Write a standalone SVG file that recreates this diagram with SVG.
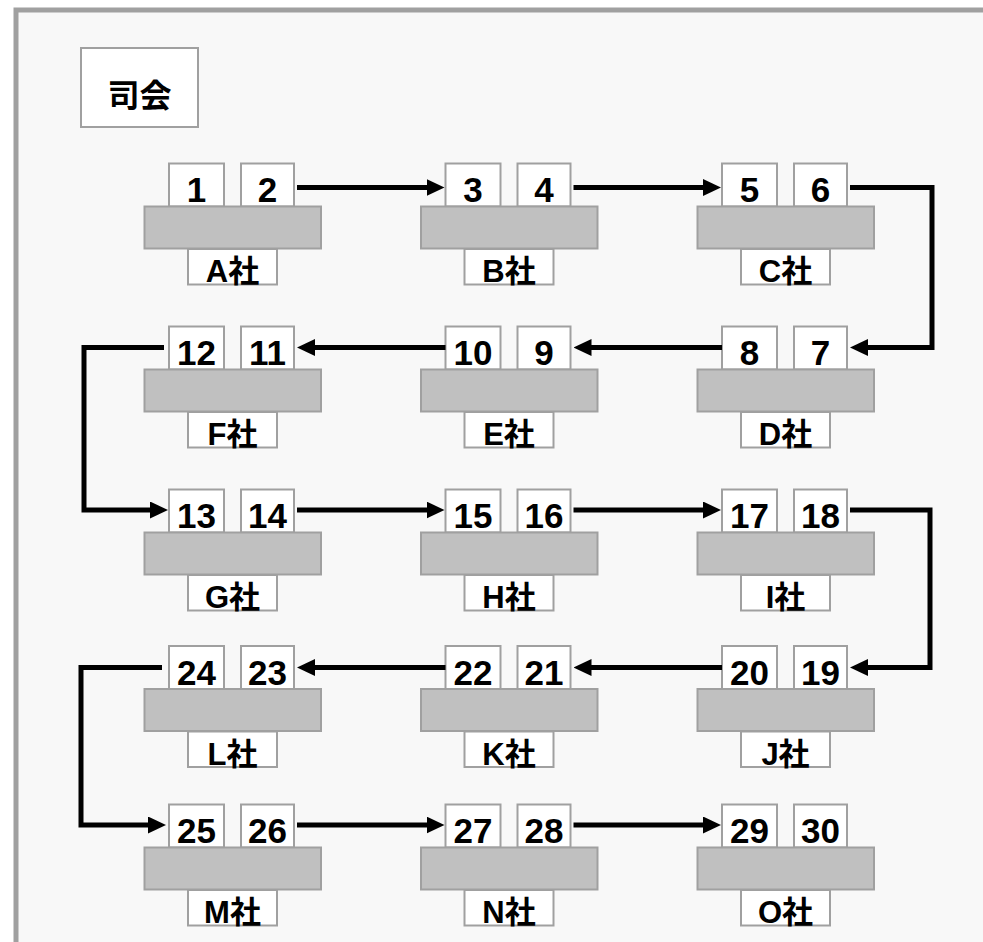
<svg xmlns="http://www.w3.org/2000/svg" width="983" height="942" viewBox="0 0 983 942">
<style>
.seat{fill:#ffffff;stroke:#a0a0a0;stroke-width:2}
.tbl{fill:#c0c0c0;stroke:#a0a0a0;stroke-width:2}
.lbl{fill:#ffffff;stroke:#a0a0a0;stroke-width:2}
.num{font-family:"Liberation Sans","Noto Sans CJK JP",sans-serif;font-weight:bold;font-size:35px;text-anchor:middle;fill:#000}
.co{font-family:"Liberation Sans","Noto Sans CJK JP",sans-serif;font-weight:bold;font-size:31px;text-anchor:middle;fill:#000}
.conn{fill:none;stroke:#000;stroke-width:5;stroke-linejoin:miter;marker-end:url(#ah)}
</style>
<defs>
<marker id="ah" markerUnits="userSpaceOnUse" markerWidth="18" markerHeight="17" viewBox="0 0 18 17" refX="10" refY="8.5" orient="auto">
<path d="M0,0 L18,8.5 L0,17 Z" fill="#000"/>
</marker>
</defs>
<rect x="0" y="0" width="983" height="942" fill="#ffffff"/>
<rect x="16" y="10" width="1000" height="1000" fill="#f8f8f8" stroke="#a0a0a0" stroke-width="5"/>
<g id="shikai">
<rect x="81" y="48" width="117" height="79" fill="#ffffff" stroke="#a0a0a0" stroke-width="2"/>
<text x="139.5" y="107" font-family="'Noto Sans CJK JP',sans-serif" font-weight="bold" font-size="32" text-anchor="middle">司会</text>
</g>
<g id="A">
<rect class="seat" x="169" y="163.5" width="55" height="43"/><text class="num" x="196.5" y="202">1</text>
<rect class="seat" x="241" y="163.5" width="53" height="43"/><text class="num" x="267.5" y="202">2</text>
<rect class="tbl" x="144.5" y="206.5" width="176.5" height="42"/>
<rect class="lbl" x="188" y="249" width="89" height="35.5"/><text class="co" x="232.5" y="282">A社</text>
</g>
<g id="B">
<rect class="seat" x="445.5" y="163.5" width="55" height="43"/><text class="num" x="473" y="202">3</text>
<rect class="seat" x="517.5" y="163.5" width="53" height="43"/><text class="num" x="544" y="202">4</text>
<rect class="tbl" x="421" y="206.5" width="176.5" height="42"/>
<rect class="lbl" x="464.5" y="249" width="89" height="35.5"/><text class="co" x="509" y="282">B社</text>
</g>
<g id="C">
<rect class="seat" x="722" y="163.5" width="55" height="43"/><text class="num" x="749.5" y="202">5</text>
<rect class="seat" x="794" y="163.5" width="53" height="43"/><text class="num" x="820.5" y="202">6</text>
<rect class="tbl" x="697.5" y="206.5" width="176.5" height="42"/>
<rect class="lbl" x="741" y="249" width="89" height="35.5"/><text class="co" x="785.5" y="282">C社</text>
</g>
<g id="F">
<rect class="seat" x="169" y="326.5" width="55" height="43"/><text class="num" x="196.5" y="365">12</text>
<rect class="seat" x="241" y="326.5" width="53" height="43"/><text class="num" x="267.5" y="365">11</text>
<rect class="tbl" x="144.5" y="369.5" width="176.5" height="42"/>
<rect class="lbl" x="188" y="412" width="89" height="35.5"/><text class="co" x="232.5" y="445">F社</text>
</g>
<g id="E">
<rect class="seat" x="445.5" y="326.5" width="55" height="43"/><text class="num" x="473" y="365">10</text>
<rect class="seat" x="517.5" y="326.5" width="53" height="43"/><text class="num" x="544" y="365">9</text>
<rect class="tbl" x="421" y="369.5" width="176.5" height="42"/>
<rect class="lbl" x="464.5" y="412" width="89" height="35.5"/><text class="co" x="509" y="445">E社</text>
</g>
<g id="D">
<rect class="seat" x="722" y="326.5" width="55" height="43"/><text class="num" x="749.5" y="365">8</text>
<rect class="seat" x="794" y="326.5" width="53" height="43"/><text class="num" x="820.5" y="365">7</text>
<rect class="tbl" x="697.5" y="369.5" width="176.5" height="42"/>
<rect class="lbl" x="741" y="412" width="89" height="35.5"/><text class="co" x="785.5" y="445">D社</text>
</g>
<g id="G">
<rect class="seat" x="169" y="489.5" width="55" height="43"/><text class="num" x="196.5" y="528">13</text>
<rect class="seat" x="241" y="489.5" width="53" height="43"/><text class="num" x="267.5" y="528">14</text>
<rect class="tbl" x="144.5" y="532.5" width="176.5" height="42"/>
<rect class="lbl" x="188" y="575" width="89" height="35.5"/><text class="co" x="232.5" y="608">G社</text>
</g>
<g id="H">
<rect class="seat" x="445.5" y="489.5" width="55" height="43"/><text class="num" x="473" y="528">15</text>
<rect class="seat" x="517.5" y="489.5" width="53" height="43"/><text class="num" x="544" y="528">16</text>
<rect class="tbl" x="421" y="532.5" width="176.5" height="42"/>
<rect class="lbl" x="464.5" y="575" width="89" height="35.5"/><text class="co" x="509" y="608">H社</text>
</g>
<g id="I">
<rect class="seat" x="722" y="489.5" width="55" height="43"/><text class="num" x="749.5" y="528">17</text>
<rect class="seat" x="794" y="489.5" width="53" height="43"/><text class="num" x="820.5" y="528">18</text>
<rect class="tbl" x="697.5" y="532.5" width="176.5" height="42"/>
<rect class="lbl" x="741" y="575" width="89" height="35.5"/><text class="co" x="785.5" y="608">I社</text>
</g>
<g id="L">
<rect class="seat" x="169" y="646" width="55" height="43"/><text class="num" x="196.5" y="684.5">24</text>
<rect class="seat" x="241" y="646" width="53" height="43"/><text class="num" x="267.5" y="684.5">23</text>
<rect class="tbl" x="144.5" y="689" width="176.5" height="42"/>
<rect class="lbl" x="188" y="731.5" width="89" height="35.5"/><text class="co" x="232.5" y="764.5">L社</text>
</g>
<g id="K">
<rect class="seat" x="445.5" y="646" width="55" height="43"/><text class="num" x="473" y="684.5">22</text>
<rect class="seat" x="517.5" y="646" width="53" height="43"/><text class="num" x="544" y="684.5">21</text>
<rect class="tbl" x="421" y="689" width="176.5" height="42"/>
<rect class="lbl" x="464.5" y="731.5" width="89" height="35.5"/><text class="co" x="509" y="764.5">K社</text>
</g>
<g id="J">
<rect class="seat" x="722" y="646" width="55" height="43"/><text class="num" x="749.5" y="684.5">20</text>
<rect class="seat" x="794" y="646" width="53" height="43"/><text class="num" x="820.5" y="684.5">19</text>
<rect class="tbl" x="697.5" y="689" width="176.5" height="42"/>
<rect class="lbl" x="741" y="731.5" width="89" height="35.5"/><text class="co" x="785.5" y="764.5">J社</text>
</g>
<g id="M">
<rect class="seat" x="169" y="804.5" width="55" height="43"/><text class="num" x="196.5" y="843">25</text>
<rect class="seat" x="241" y="804.5" width="53" height="43"/><text class="num" x="267.5" y="843">26</text>
<rect class="tbl" x="144.5" y="847.5" width="176.5" height="42"/>
<rect class="lbl" x="188" y="890" width="89" height="35.5"/><text class="co" x="232.5" y="923">M社</text>
</g>
<g id="N">
<rect class="seat" x="445.5" y="804.5" width="55" height="43"/><text class="num" x="473" y="843">27</text>
<rect class="seat" x="517.5" y="804.5" width="53" height="43"/><text class="num" x="544" y="843">28</text>
<rect class="tbl" x="421" y="847.5" width="176.5" height="42"/>
<rect class="lbl" x="464.5" y="890" width="89" height="35.5"/><text class="co" x="509" y="923">N社</text>
</g>
<g id="O">
<rect class="seat" x="722" y="804.5" width="55" height="43"/><text class="num" x="749.5" y="843">29</text>
<rect class="seat" x="794" y="804.5" width="53" height="43"/><text class="num" x="820.5" y="843">30</text>
<rect class="tbl" x="697.5" y="847.5" width="176.5" height="42"/>
<rect class="lbl" x="741" y="890" width="89" height="35.5"/><text class="co" x="785.5" y="923">O社</text>
</g>
<g id="connectors">
<path class="conn" d="M297,187.5 H436.5"/>
<path class="conn" d="M573.5,187.5 H713"/>
<path class="conn" d="M850,187.5 H932 V347.5 H858"/>
<path class="conn" d="M722,347.5 H581.5"/>
<path class="conn" d="M445.5,347.5 H305"/>
<path class="conn" d="M164,347.5 H84 V510 H160"/>
<path class="conn" d="M297,510 H436.5"/>
<path class="conn" d="M573.5,510 H713"/>
<path class="conn" d="M850,510 H930 V667.5 H858"/>
<path class="conn" d="M722,667.5 H581.5"/>
<path class="conn" d="M445.5,667.5 H305"/>
<path class="conn" d="M162,667.5 H81 V825 H158"/>
<path class="conn" d="M297,825 H436.5"/>
<path class="conn" d="M573.5,825 H713"/>
</g>
</svg>
